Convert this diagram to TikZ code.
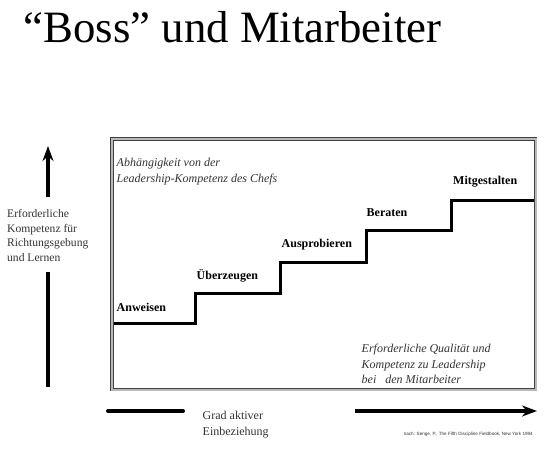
\documentclass[tikz,border=0pt]{standalone}
\usepackage{fontspec}
\setmainfont{Liberation Serif}
\newfontfamily\notefont{Liberation Sans}
\usetikzlibrary{positioning,arrows.meta}
\usepackage{xcolor}
\definecolor{txtgray}{HTML}{333333}

\begin{document}
\begin{tikzpicture}[x=1pt,y=-1pt,>={Stealth[length=15pt,width=11pt]},
  stufe/.style={font=\fontsize{12}{14}\selectfont\bfseries,anchor=west,inner sep=0pt},
  notiz/.style={font=\fontsize{12}{15.5}\selectfont\itshape,text=txtgray,anchor=west,align=left,inner sep=0pt},
  achse/.style={line width=4pt}]
\useasboundingbox (0,0) rectangle (547,450);
\node[font=\fontsize{44.8}{47}\selectfont,anchor=center] (titel) at (232.5,27) {``Boss'' und Mitarbeiter};
% Rahmen
\draw[draw=black!75,double=gray!55,double distance=2pt,line width=0.9pt] (112,139) rectangle (535.5,389.5);
% Treppe
\draw[line width=3pt,line join=miter] (114,323) -- (195,323) -- (195,293) -- (280,293) -- (280,262) -- (366.5,262) -- (366.5,230) -- (451.5,230) -- (451.5,200) -- (534,200);
\node[stufe] (anweisen) at (116.5,307) {Anweisen};
\node[stufe] (ueberzeugen) at (196.5,276) {Überzeugen};
\node[stufe] (ausprobieren) at (281.5,244.5) {Ausprobieren};
\node[stufe] (beraten) at (366.5,213) {Beraten};
\node[stufe] (mitgestalten) at (453,182) {Mitgestalten};
\node[notiz] (chef) at (116.5,171.5) {Abhängigkeit von der\\Leadership-Kompetenz des Chefs};
\node[notiz] (mitarb) at (361.5,364) {Erforderliche Qualität und\\Kompetenz zu Leadership\\bei \ \ den Mitarbeiter};
% linke Achse
\coordinate (yfuss) at (48,197);
\coordinate (yspitze) at (48,146);
\draw[achse,->] (yfuss) -- (yspitze);
\node[font=\fontsize{11.6}{14.8}\selectfont,text=txtgray,align=left,anchor=west,inner sep=0pt] (kompetenz) at (7,235.5) {Erforderliche\\Kompetenz für\\Richtungsgebung\\und Lernen};
\coordinate (yunten) at (48,387);
\coordinate (yoben) at (48,272);
\draw[achse] (yunten) -- (yoben);
% untere Achse
\coordinate (xa) at (108,411);
\coordinate (xb) at (183,411);
\draw[achse,line cap=round] (xa) -- (xb);
\node[font=\fontsize{12}{15.6}\selectfont,text=txtgray,align=left,anchor=west,inner sep=0pt] (grad) at (202.5,424.5) {Grad aktiver\\Einbeziehung};
\coordinate (xc) at (355,411);
\coordinate (xd) at (537,411);
\draw[achse,->] (xc) -- (xd);
\node[font=\notefont\fontsize{4.6}{5}\selectfont,text=txtgray,anchor=east,inner sep=0pt] (quelle) at (533,434) {nach: Senge, P., The Fifth Discipline Fieldbook, New York 1994};
\end{tikzpicture}
\end{document}
